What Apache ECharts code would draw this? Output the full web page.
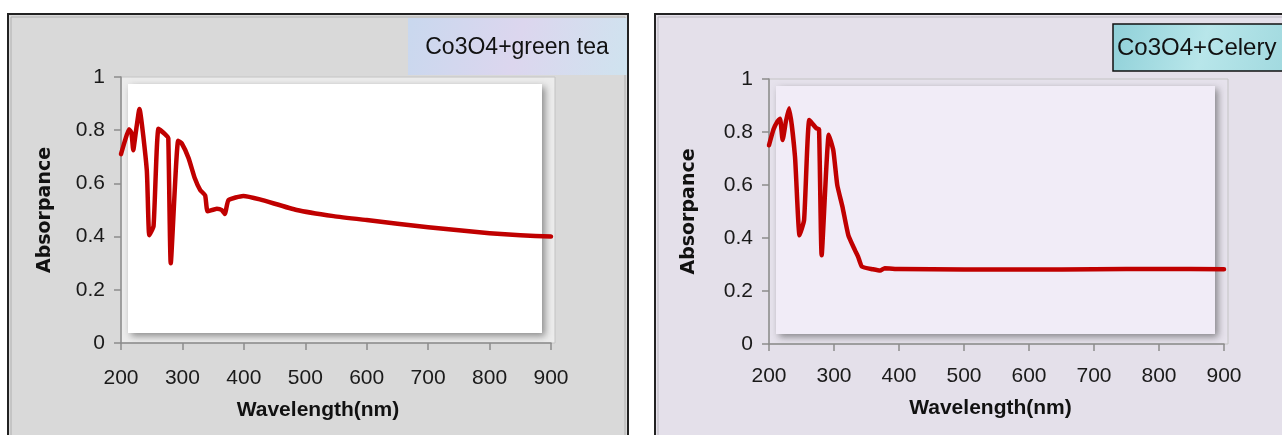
<!DOCTYPE html>
<html>
<head>
<meta charset="utf-8">
<script src="https://cdn.jsdelivr.net/npm/echarts@6/dist/echarts.min.js"></script>
<style>
  html, body { margin: 0; padding: 0; background: #fff; }
  #main { width: 1282px; height: 435px; }
</style>
</head>
<body>
<div id="main"></div>
<script>
// 绿茶样品 (Co3O4+green tea)
let greenTeaWl  = [200, 206, 213, 217, 220, 224, 230, 242, 246, 253, 261, 274, 277, 281, 293, 299, 310, 320, 329, 337, 341, 356, 364, 369, 375, 399, 426, 486, 546, 600, 700, 800, 850, 900];
let greenTeaAbs = [0.71, 0.757, 0.804, 0.79, 0.725, 0.79, 0.88, 0.65, 0.405, 0.44, 0.805, 0.78, 0.77, 0.30, 0.76, 0.75, 0.695, 0.62, 0.575, 0.555, 0.495, 0.505, 0.50, 0.485, 0.537, 0.553, 0.54, 0.50, 0.477, 0.462, 0.435, 0.413, 0.405, 0.40];

// 芹菜样品 (Co3O4+Celery)
let celeryWl  = [200, 207, 213, 217, 221, 226, 231, 240, 247, 254, 262, 273, 277, 281, 292, 299, 305, 313, 322, 332, 337, 343, 360, 371, 378, 400, 500, 600, 700, 800, 900];
let celeryAbs = [0.75, 0.81, 0.84, 0.85, 0.77, 0.84, 0.89, 0.707, 0.41, 0.468, 0.845, 0.814, 0.81, 0.335, 0.79, 0.73, 0.60, 0.518, 0.411, 0.355, 0.33, 0.292, 0.282, 0.277, 0.286, 0.283, 0.281, 0.281, 0.282, 0.283, 0.282];

let xTicks = [200, 300, 400, 500, 600, 700, 800, 900];
let yTicks = [0, 0.2, 0.4, 0.6, 0.8, 1];

let myChart;

function toPairs(xs, ys) {
    let out = [];
    for (let i = 0; i < xs.length; i++) {
        out.push([xs[i], ys[i]]);
    }
    return out;
}

// 面板配置 (只放位置/样式)
let panels = [
    { left: 121, top: 77, width: 430, height: 266, bg: '#d9d9d9', plotBg: '#ffffff', frameBg: '#ececec',
      nameGapX: 57, nameGapY: 66, xNamePad: [0, 36, 0, 0], labelMarginX: 25 },
    { left: 769, top: 79, width: 455, height: 265, bg: '#e4e0ea', plotBg: '#f1ecf7', frameBg: '#e6e2ec',
      nameGapX: 54, nameGapY: 70, xNamePad: [0, 12, 0, 0], labelMarginX: 22 }
];

function bevel(p) {
    return [
        {
            type: 'rect', z: -5,
            shape: { x: p.left, y: p.top, width: p.width + 4, height: p.height },
            style: { fill: p.frameBg, stroke: '#c4c4c4', lineWidth: 1 }
        },
        {
            type: 'rect', z: -4,
            shape: { x: p.left + 7, y: p.top + 7, width: p.width - 16, height: p.height - 17 },
            style: {
                fill: p.plotBg,
                shadowBlur: 7, shadowOffsetX: 3, shadowOffsetY: 3,
                shadowColor: 'rgba(60,60,60,0.55)'
            }
        }
    ];
}

window.onload = function () {
    myChart = echarts.init(document.getElementById('main'));

    let axisFont = { fontFamily: 'Liberation Sans', fontSize: 21, color: '#1a1a1a' };

    let grids = [], xAxes = [], yAxes = [], series = [];
    let datas = [toPairs(greenTeaWl, greenTeaAbs), toPairs(celeryWl, celeryAbs)];

    panels.forEach(function (p, i) {
        grids.push({ left: p.left, top: p.top, width: p.width, height: p.height, containLabel: false });
        xAxes.push({
            gridIndex: i, type: 'value', min: 200, max: 900, interval: 100,
            name: 'Wavelength(nm)', nameLocation: 'middle', nameGap: p.nameGapX,
            nameTextStyle: { fontFamily: 'Liberation Sans', fontWeight: 'bold', fontSize: 21, color: '#111', padding: p.xNamePad },
            axisLine: { lineStyle: { color: '#8c8c8c', width: 1.5 } },
            axisTick: { length: 7, lineStyle: { color: '#8c8c8c', width: 1.5 } },
            axisLabel: Object.assign({ margin: p.labelMarginX }, axisFont),
            splitLine: { show: false }
        });
        yAxes.push({
            gridIndex: i, type: 'value', min: 0, max: 1, interval: 0.2,
            name: 'Absorpance', nameLocation: 'middle', nameGap: p.nameGapY, nameRotate: 90,
            nameTextStyle: { fontFamily: 'DejaVu Sans', fontWeight: 'bold', fontSize: 19, color: '#111' },
            axisLine: { show: true, lineStyle: { color: '#8c8c8c', width: 1.5 } },
            axisTick: { show: true, length: 7, lineStyle: { color: '#8c8c8c', width: 1.5 } },
            axisLabel: Object.assign({ margin: 16 }, axisFont),
            splitLine: { show: false }
        });
        series.push({
            type: 'line', xAxisIndex: i, yAxisIndex: i,
            data: datas[i], showSymbol: false, smooth: 0.15,
            lineStyle: { color: '#c00000', width: 4.5, cap: 'round', join: 'round' },
            z: 5
        });
    });

    let graphics = [
        // 左面板
        { type: 'rect', z: -10, shape: { x: 8, y: 14, width: 620, height: 430 },
          style: { fill: panels[0].bg, stroke: '#222', lineWidth: 2 } },
        { type: 'rect', z: -9, shape: { x: 11, y: 17, width: 614, height: 430 },
          style: { fill: 'none', stroke: '#b0b0b0', lineWidth: 1 } },
        // 右面板
        { type: 'rect', z: -10, shape: { x: 655, y: 14, width: 640, height: 430 },
          style: { fill: panels[1].bg, stroke: '#222', lineWidth: 2 } },
        { type: 'rect', z: -9, shape: { x: 658, y: 17, width: 640, height: 430 },
          style: { fill: 'none', stroke: '#b8b4bc', lineWidth: 1 } }
    ].concat(bevel(panels[0]), bevel(panels[1]));

    // 标题框
    graphics.push({
        type: 'group', z: 50,
        children: [
            { type: 'rect', shape: { x: 408, y: 18, width: 219, height: 57 },
              style: { fill: { type: 'linear', x: 0, y: 0, x2: 1, y2: 1, colorStops: [
                  { offset: 0, color: '#c9d8ee' }, { offset: 0.5, color: '#dcd6ee' }, { offset: 1, color: '#cfe3ef' } ] } } },
            { type: 'text', style: { x: 517, y: 48, text: 'Co3O4+green tea', fill: '#111',
              font: '23px "Liberation Sans"', align: 'center', verticalAlign: 'middle' } }
        ]
    });
    graphics.push({
        type: 'group', z: 50,
        children: [
            { type: 'rect', shape: { x: 1113, y: 24, width: 180, height: 47 },
              style: { fill: { type: 'linear', x: 0, y: 0, x2: 1, y2: 1, colorStops: [
                  { offset: 0, color: '#8fd0d8' }, { offset: 0.5, color: '#b8e6ea' }, { offset: 1, color: '#9fd8de' } ] },
                  stroke: '#111', lineWidth: 1.5 } },
            { type: 'text', style: { x: 1117, y: 48, text: 'Co3O4+Celery', fill: '#111',
              font: '24px "Liberation Sans"', align: 'left', verticalAlign: 'middle' } }
        ]
    });

    let option = {
        backgroundColor: '#ffffff',
        animation: false,
        grid: grids,
        xAxis: xAxes,
        yAxis: yAxes,
        series: series,
        graphic: graphics
    };
    myChart.setOption(option);
};
</script>
</body>
</html>
